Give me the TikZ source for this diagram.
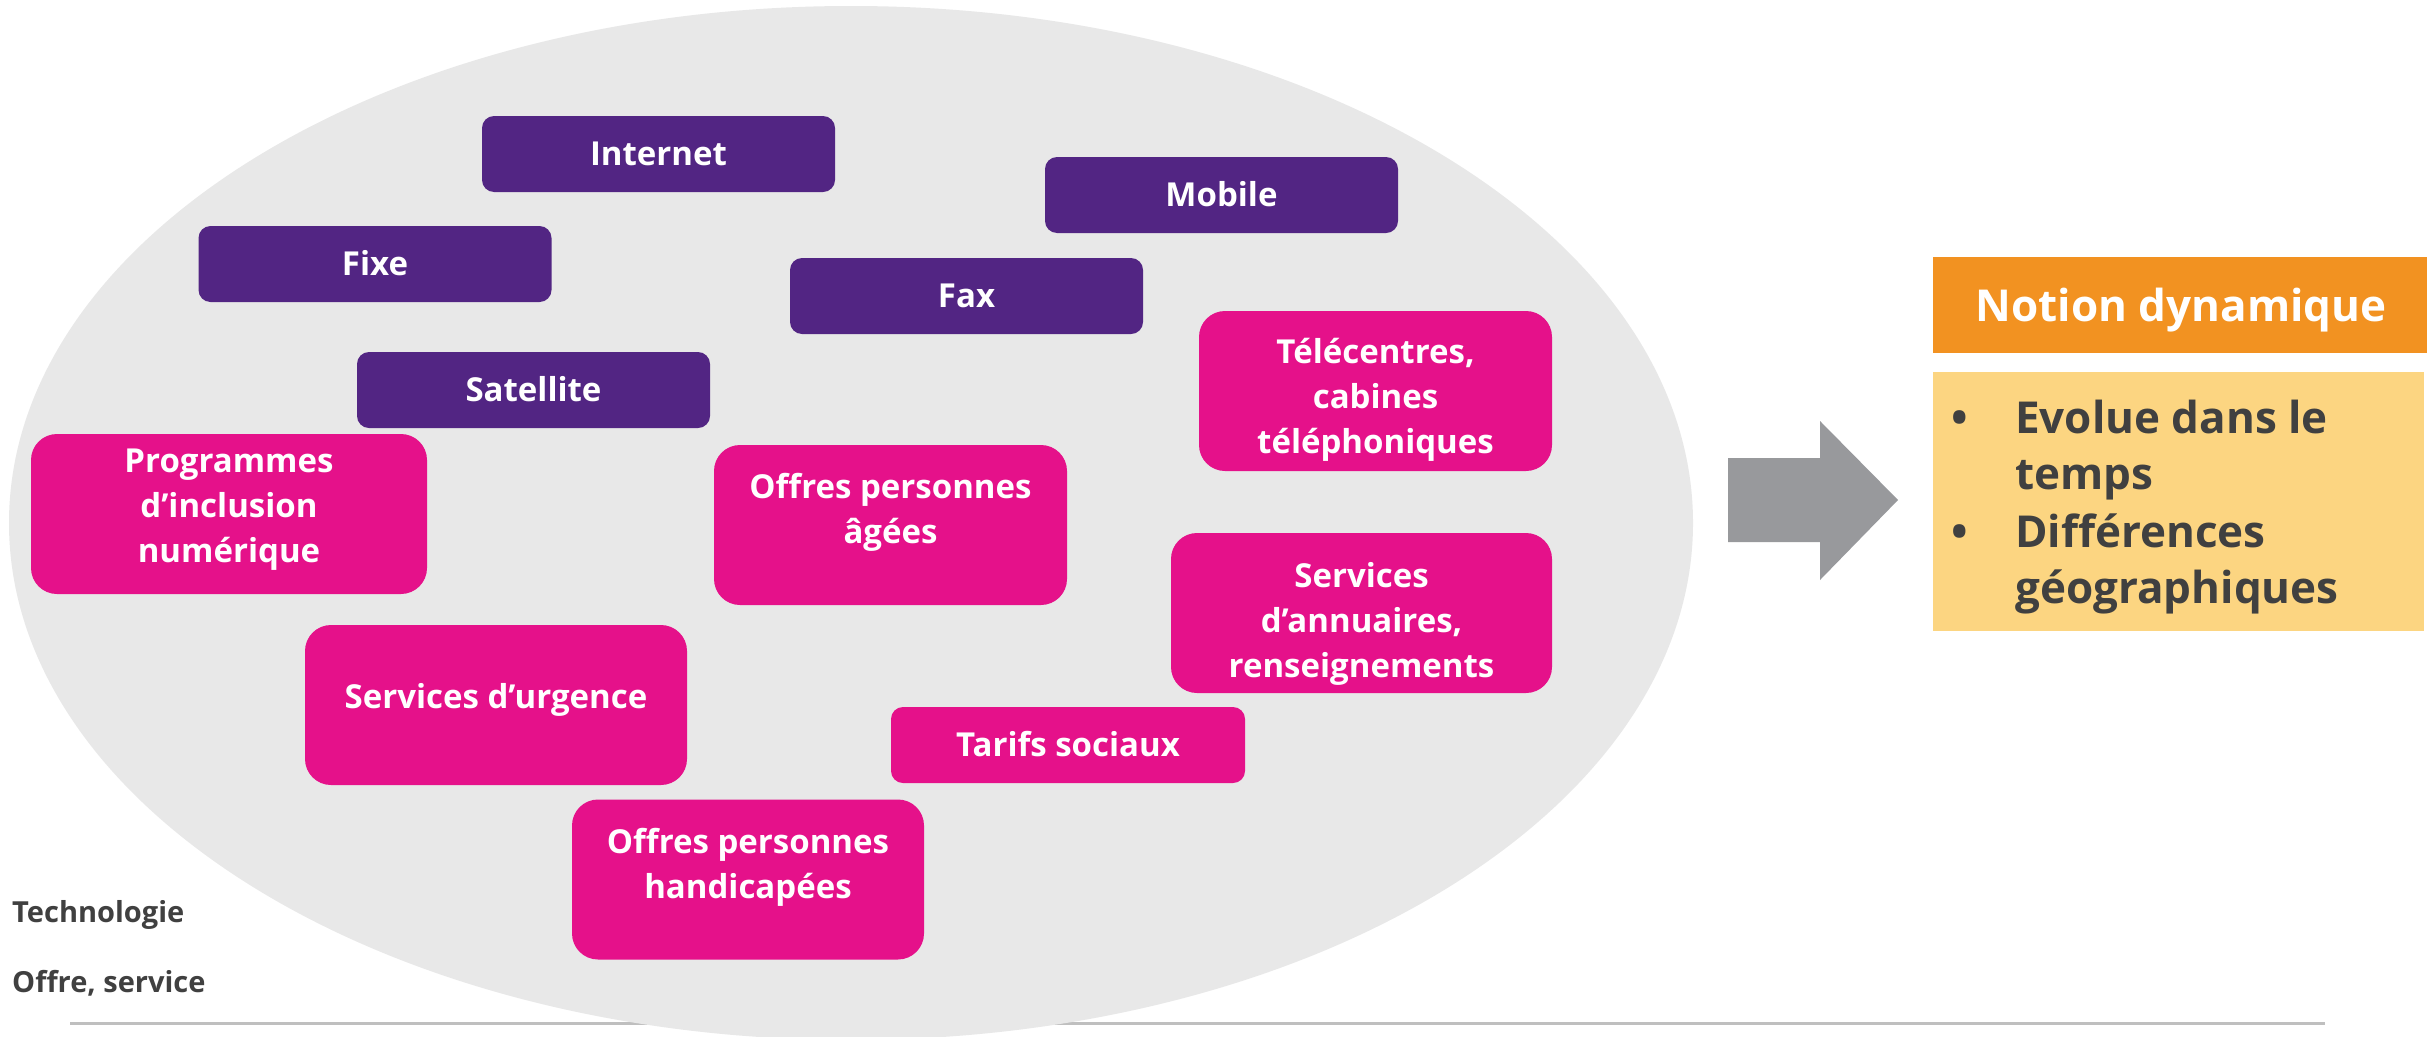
\documentclass[tikz,border=0pt]{standalone}
\usepackage{fontspec}
\setmainfont{Open Sans}
\definecolor{ellgray}{HTML}{E8E8E8}
\definecolor{techpurple}{HTML}{522583}
\definecolor{offmagenta}{HTML}{E5118A}
\definecolor{arrgray}{HTML}{98999C}
\definecolor{notorange}{HTML}{F29221}
\definecolor{notyellow}{HTML}{FCD581}
\definecolor{txtgray}{HTML}{404040}
\definecolor{linegray}{HTML}{BFBFBF}
\newcommand{\topstrut}{\rule{0pt}{40pt}}
\newcommand{\bigstrut}{\rule{0pt}{50pt}}
\begin{document}
\begin{tikzpicture}[x=1pt,y=-1pt,
  boxtxt/.style={font=\fontsize{33}{45}\selectfont\bfseries, text=white, align=center, inner sep=0pt},
  techbox/.style={fill=techpurple, rounded corners=12pt, minimum width=353pt, minimum height=76pt, inner sep=0pt},
  offbox/.style={fill=offmagenta, rounded corners=26pt, minimum height=160pt, inner sep=0pt},
  linetxt/.style={boxtxt, anchor=base},
  multitxt/.style={boxtxt, anchor=north},
  legendtxt/.style={font=\fontsize{29}{34}\selectfont\bfseries, text=txtgray, anchor=base west, inner sep=0pt},
  paneltxt/.style={font=\fontsize{44}{56.5}\selectfont\bfseries, text=txtgray, inner sep=0pt}
]
\useasboundingbox (0,0) rectangle (2427,1036);
\fill[white] (0,0) rectangle (2427,1036);
% baseline
\draw[linegray, line width=3pt] (70,1023) -- (2325,1023);
% ellipse
\fill[ellgray] (851,523) ellipse [x radius=842, y radius=517];
% technology boxes
\node[techbox] (internet) at (658.5,154) {};
\node[techbox] (mobile) at (1221.5,195) {};
\node[techbox] (fixe) at (375,264) {};
\node[techbox] (fax) at (966.5,296) {};
\node[techbox] (satellite) at (533.5,390) {};
\node[linetxt] (internet-t) at (658.5,165.5) {Internet};
\node[linetxt] (mobile-t) at (1221.5,206.5) {Mobile};
\node[linetxt] (fixe-t) at (375,275.5) {Fixe};
\node[linetxt] (fax-t) at (966.5,307.5) {Fax};
\node[linetxt] (satellite-t) at (533.5,401.5) {Satellite};
% offer boxes
\node[offbox, minimum width=353pt] (telecentres) at (1375.5,391) {};
\node[offbox, minimum width=396pt] (programmes) at (229,514) {};
\node[offbox, minimum width=353pt] (agees) at (890.5,525) {};
\node[offbox, minimum width=381pt] (annuaires) at (1361.5,613) {};
\node[offbox, minimum width=382pt] (urgence) at (496,705) {};
\node[offbox, minimum width=354pt, minimum height=76pt, rounded corners=12pt] (tarifs) at (1068,745) {};
\node[offbox, minimum width=352pt] (handicap) at (748,879.5) {};
\node[multitxt] (telecentres-t) at (1375.5,323) {\topstrut Télécentres,\\cabines\\téléphoniques};
\node[multitxt] (programmes-t) at (229,432) {\topstrut Programmes\\d’inclusion\\numérique};
\node[multitxt] (agees-t) at (890.5,458) {\topstrut Offres personnes\\âgées};
\node[multitxt] (annuaires-t) at (1361.5,547) {\topstrut Services\\d’annuaires,\\renseignements};
\node[linetxt] (urgence-t) at (496,708) {Services d’urgence};
\node[linetxt] (tarifs-t) at (1068,756.5) {Tarifs sociaux};
\node[multitxt] (handicap-t) at (748,813) {\topstrut Offres personnes\\handicapées};
% legend
\node[legendtxt] (techlbl) at (12,922) {Technologie};
\node[legendtxt] (offlbl) at (12,992) {Offre, service};
% arrow
\fill[arrgray] (1728,458) -- (1820,458) -- (1820,421) -- (1898,500) -- (1820,580) -- (1820,542) -- (1728,542) -- cycle;
\coordinate (arrowtip) at (1898,500);
% right panel
\node[fill=notorange, minimum width=494pt, minimum height=96pt, inner sep=0pt] (notion) at (2180,305) {};
\node[anchor=base, inner sep=0pt, text=white, font=\fontsize{44}{52}\selectfont\bfseries] (notion-t) at (2181,321) {Notion dynamique};
\node[fill=notyellow, minimum width=491pt, minimum height=259pt, inner sep=0pt] (yellow) at (2178.5,501.5) {};
\node[paneltxt, anchor=base] (b1) at (1960,433) {•};
\node[paneltxt, anchor=north west, align=left] (t1) at (2015,383) {\bigstrut Evolue dans le\\temps};
\node[paneltxt, anchor=base] (b2) at (1960,547) {•};
\node[paneltxt, anchor=north west, align=left] (t2) at (2015,497) {\bigstrut Différences\\géographiques};
\end{tikzpicture}
\end{document}
